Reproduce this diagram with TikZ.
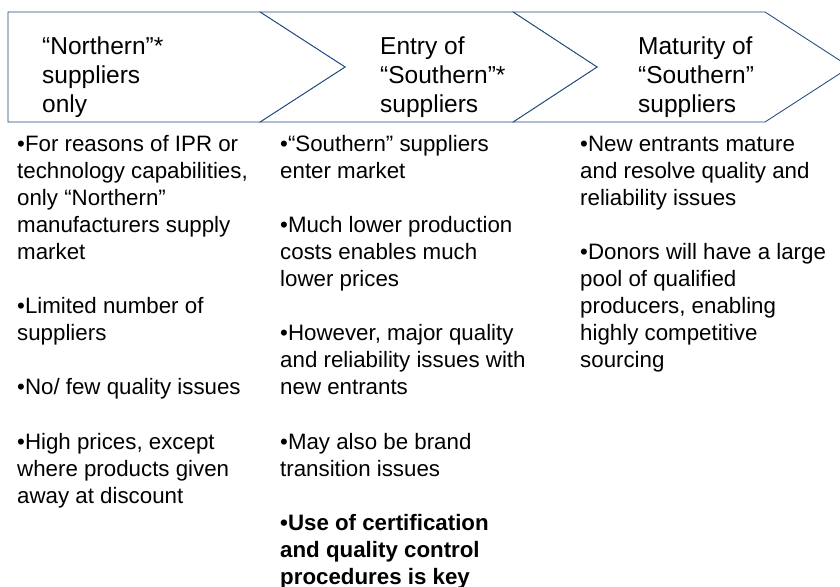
\documentclass[tikz,border=0pt]{standalone}
\usepackage{fontspec}
\setmainfont{Liberation Sans}
\definecolor{edge}{RGB}{31,73,125}
\begin{document}
\begin{tikzpicture}[x=1pt,y=-1pt,
  chev/.style={draw=edge, line width=0.85pt, fill=white, line join=miter},
  head/.style={anchor=base west, inner sep=0pt, align=left, font=\fontsize{24.5}{29}\selectfont},
  body/.style={anchor=base west, inner sep=0pt, align=left, font=\fontsize{22.3}{27.1}\selectfont}]
\useasboundingbox (0,0) rectangle (840,586);
\clip (0,0) rectangle (840,586);
\fill[white] (0,0) rectangle (840,586);
% chevrons
\draw[chev] (513,12) -- (765,12) -- (850,67) -- (765,122) -- (513,122) -- (597,67) -- cycle;
\draw[chev] (260,12) -- (513,12) -- (597,67) -- (513,122) -- (260,122) -- (345,67) -- cycle;
\draw[chev] (8,12) -- (260,12) -- (345,67) -- (260,122) -- (8,122) -- cycle;
% headers (base anchor = baseline of last line)
\node[head] (h1) at (42,112) {“Northern”*\\suppliers\\only};
\node[head] (h2) at (380,112) {Entry of\\“Southern”*\\suppliers};
\node[head] (h3) at (638,112) {Maturity of\\“Southern”\\suppliers};
% bodies
\node[body] (b1) at (17,503.3) {•For reasons of IPR or\\technology capabilities,\\only “Northern”\\manufacturers supply\\market\\[27.1pt]•Limited number of\\suppliers\\[27.1pt]•No/ few quality issues\\[27.1pt]•High prices, except\\where products given\\away at discount};
\node[body] (b2) at (280,584.6) {•“Southern” suppliers\\enter market\\[27.1pt]•Much lower production\\costs enables much\\lower prices\\[27.1pt]•However, major quality\\and reliability issues with\\new entrants\\[27.1pt]•May also be brand\\transition issues\\[27.1pt]\textbf{•Use of certification}\\\textbf{and quality control}\\\textbf{procedures is key}};
\node[body] (b3) at (580,367.8) {•New entrants mature\\and resolve quality and\\reliability issues\\[27.1pt]•Donors will have a large\\pool of qualified\\producers, enabling\\highly competitive\\sourcing};
\end{tikzpicture}
\end{document}
